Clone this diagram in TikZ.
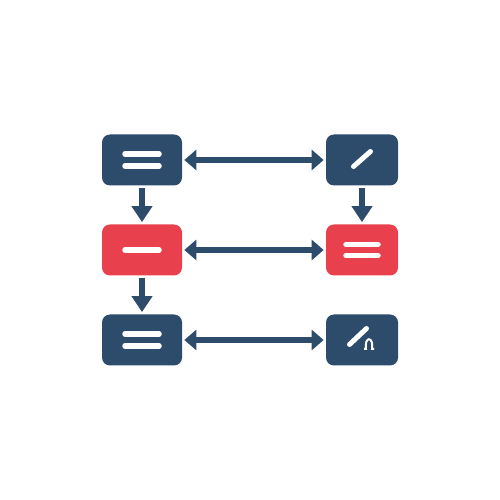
\documentclass[tikz,border=0pt]{standalone}
\usepackage{tikz}
\usetikzlibrary{shapes, arrows.meta}
\definecolor{navy}{HTML}{2D4B6B}
\definecolor{alertred}{HTML}{E8404D}
\tikzstyle{stepbox} = [rectangle, rounded corners=0.16cm, minimum width=1.6cm, minimum height=1.02cm, fill=navy, inner sep=0pt]
\tikzstyle{alertbox} = [stepbox, fill=alertred]
\tikzstyle{sidebox} = [stepbox, minimum width=1.44cm]
\tikzstyle{bar} = [white, line width=0.11cm, line cap=round]
\tikzstyle{pen} = [white, line width=0.1cm, line cap=round]
\tikzstyle{arrow} = [navy, line width=0.11cm, -{Triangle[length=0.32cm, width=0.4cm]}, shorten >=0.04cm, shorten <=0.04cm]
\tikzstyle{biarrow} = [navy, line width=0.11cm, {Triangle[length=0.24cm, width=0.4cm]}-{Triangle[length=0.24cm, width=0.4cm]}, shorten >=0.04cm, shorten <=0.04cm]

\begin{document}
\begin{tikzpicture}[node distance=1.8cm]
    \useasboundingbox (0,0) rectangle (10,10);
    \node (inbox) [stepbox] at (2.84,6.8) {};
    \node (check) [alertbox, below of=inbox] {};
    \node (store) [stepbox, below of=check] {};
    \node (edit) [sidebox, right of=inbox, node distance=4.4cm] {};
    \node (list) [sidebox, fill=alertred, right of=check, node distance=4.4cm] {};
    \node (sign) [sidebox, right of=store, node distance=4.4cm] {};

    % icons
    \draw [bar] ([shift={(-0.34,0.12)}]inbox.center) -- ([shift={(0.34,0.12)}]inbox.center);
    \draw [bar] ([shift={(-0.34,-0.12)}]inbox.center) -- ([shift={(0.34,-0.12)}]inbox.center);
    \draw [bar] ([shift={(-0.34,0)}]check.center) -- ([shift={(0.34,0)}]check.center);
    \draw [bar] ([shift={(-0.34,0.12)}]store.center) -- ([shift={(0.34,0.12)}]store.center);
    \draw [bar] ([shift={(-0.34,-0.12)}]store.center) -- ([shift={(0.34,-0.12)}]store.center);
    \draw [bar] ([shift={(-0.32,0.11)}]list.center) -- ([shift={(0.32,0.11)}]list.center);
    \draw [bar] ([shift={(-0.32,-0.11)}]list.center) -- ([shift={(0.32,-0.11)}]list.center);
    \draw [pen] ([shift={(-0.17,-0.13)}]edit.center) -- ([shift={(0.17,0.17)}]edit.center);
    \draw [pen] ([shift={(-0.25,-0.09)}]sign.center) -- ([shift={(0.09,0.23)}]sign.center);
    \draw [white, line width=0.04cm] ([shift={(0.04,-0.18)}]sign.center) -- ([shift={(0.08,-0.18)}]sign.center)
        .. controls ([shift={(0.04,0.08)}]sign.center) and ([shift={(0.24,0.08)}]sign.center) .. ([shift={(0.2,-0.18)}]sign.center)
        -- ([shift={(0.24,-0.18)}]sign.center);

    \draw [arrow] (inbox) -- (check);
    \draw [arrow] (check) -- (store);
    \draw [arrow] (edit) -- (list);
    \draw [biarrow] (inbox) -- (edit);
    \draw [biarrow] (check) -- (list);
    \draw [biarrow] (store) -- (sign);

\end{tikzpicture}
\end{document}
